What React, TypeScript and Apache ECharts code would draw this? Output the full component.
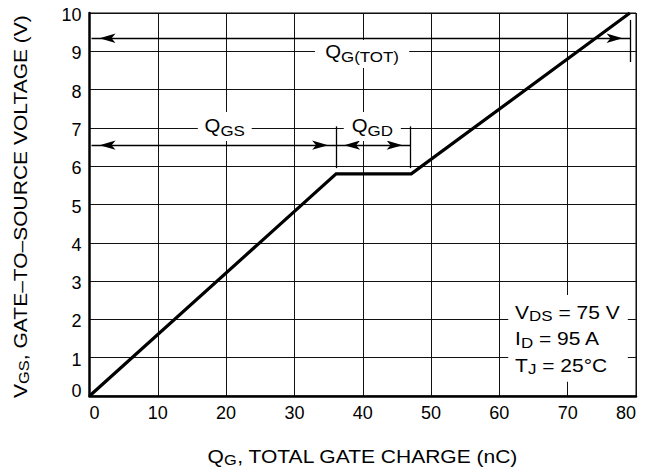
import React, { useEffect, useRef } from "react";
import * as echarts from "echarts";

// ---- data ----
const chargeNC = [0, 36.1, 47.1, 79.1];
const gateSourceV = [0, 5.8, 5.8, 10];

const X_MIN = 0;
const X_MAX = 80;
const X_STEP = 10;
const Y_MIN = 0;
const Y_MAX = 10;
const Y_STEP = 1;

// annotation geometry in data units
const arrowStartX = 0.3;
const qgTotY = 9.34;
const qgTotEndX = 79.2;
const qgTotTickY = [8.72, 9.82];
const qgsY = 6.55;
const plateauStartX = 36.1;
const plateauEndX = 47;
const qgsTickY = [5.95, 7.04];

const FONT = "'Liberation Sans', Arial, Helvetica, sans-serif";
const SX = 1.13;

const richSet = (main: number, sub: number, mainLH: number, subLH: number) => ({
  m: { fontSize: main, lineHeight: mainLH, fontFamily: FONT, fill: "#000", color: "#000" },
  s: { fontSize: sub, lineHeight: subLH, verticalAlign: "bottom", fontFamily: FONT, fill: "#000", color: "#000" },
});

export default function App() {
  const ref = useRef<HTMLDivElement>(null);
  useEffect(() => {
    if (!ref.current) return;
    const chart = echarts.init(ref.current, null, { renderer: "svg" });
    const arrowEnd = (x: number, y: number) => ({
      coord: [x, y],
      symbol: "arrow",
      symbolSize: [7, 16],
      symbolOffset: [0, 8],
    });
    const plainEnd = (x: number, y: number) => ({ coord: [x, y], symbol: "none" });

    chart.setOption({
      animation: false,
      grid: {
        left: 89.5,
        right: 16,
        top: 13,
        bottom: 73,
        show: true,
        borderColor: "#000",
        borderWidth: 1,
        backgroundColor: "transparent",
      },
      xAxis: {
        type: "value",
        min: X_MIN,
        max: X_MAX,
        interval: X_STEP,
        axisLine: { show: true, onZero: false, lineStyle: { color: "#000", width: 2.5 } },
        axisTick: { show: false },
        splitLine: { show: true, lineStyle: { color: "#111", width: 1 } },
        axisLabel: {
          color: "#000",
          fontSize: 18,
          fontFamily: FONT,
          margin: 8,
          alignMinLabel: "left",
          alignMaxLabel: "right",
        },
      },
      yAxis: {
        type: "value",
        min: Y_MIN,
        max: Y_MAX,
        interval: Y_STEP,
        axisLine: { show: true, onZero: false, lineStyle: { color: "#000", width: 2.5 } },
        axisTick: { show: false },
        splitLine: { show: true, lineStyle: { color: "#111", width: 1 } },
        axisLabel: {
          color: "#000",
          fontSize: 18,
          fontFamily: FONT,
          margin: 8,
          formatter: (v: number) => (v === 0 ? `{z|${v}}` : `{n|${v}}`),
          rich: {
            n: { fontSize: 18, fontFamily: FONT, color: "#000", padding: [4, 0, 0, 0] },
            z: { fontSize: 18, fontFamily: FONT, color: "#000", padding: [0, 0, 10, 0] },
          },
        },
      },
      series: [
        {
          type: "line",
          data: chargeNC.map((x, i) => [x, gateSourceV[i]]),
          showSymbol: false,
          symbol: "none",
          silent: true,
          lineStyle: { color: "#000", width: 3.2, join: "miter" },
          markLine: {
            silent: true,
            animation: false,
            label: { show: false },
            emphasis: { disabled: true },
            lineStyle: { color: "#000", width: 1.3, type: "solid" },
            data: [
              [arrowEnd(arrowStartX, qgTotY), arrowEnd(qgTotEndX, qgTotY)],
              [plainEnd(qgTotEndX, qgTotTickY[0]), plainEnd(qgTotEndX, qgTotTickY[1])],
              [arrowEnd(arrowStartX, qgsY), arrowEnd(plateauStartX, qgsY)],
              [arrowEnd(plateauStartX, qgsY), arrowEnd(plateauEndX, qgsY)],
              [plainEnd(plateauStartX, qgsTickY[0]), plainEnd(plateauStartX, qgsTickY[1])],
              [plainEnd(plateauEndX, qgsTickY[0]), plainEnd(plateauEndX, qgsTickY[1])],
            ],
          },
        },
      ],
    });

    const px = (x: number, y: number) => chart.convertToPixel({ gridIndex: 0 }, [x, y]) as number[];
    const qRich = richSet(18, 15, 24, 11.9);
    const condRich = richSet(18.6, 15, 22, 9.5);
    const titleRich = richSet(18.6, 14.5, 22, 15.8);
    const yTitleRich = richSet(18.6, 14.5, 22, 19);

    const txt = (
      p: number[],
      text: string,
      rich: any,
      align: string,
      va: string,
      extra: any = {}
    ) => ({
      type: "text",
      x: p[0],
      y: p[1],
      scaleX: SX,
      rotation: extra.rotation || 0,
      z: 50,
      silent: true,
      style: {
        text,
        rich,
        align,
        verticalAlign: va,
        fill: "#000",
        fontFamily: FONT,
        fontSize: 18,
        backgroundColor: extra.bg,
        padding: extra.pad,
      },
    });

    const gridLeft = px(X_MIN, Y_MIN);
    const gridRight = px(X_MAX, Y_MIN);
    const boxTL = px(61.3, 2.64);
    const boxBR = px(78.8, 0.37);

    chart.setOption({
      graphic: [
        txt(px(19.8, 7.415), "{m|Q}{s|GS}", qRich, "center", "top", { bg: "#fff", pad: [2, 6, 3, 6] }),
        txt(px(41.4, 7.415), "{m|Q}{s|GD}", qRich, "center", "top", { bg: "#fff", pad: [2, 7, 3, 7] }),
        txt(px(39.9, 9.295), "{m|Q}{s|G(TOT)}", qRich, "center", "top", { bg: "#fff", pad: [0, 9, 4, 9] }),
        {
          type: "rect",
          z: 40,
          silent: true,
          shape: { x: boxTL[0], y: boxTL[1], width: boxBR[0] - boxTL[0], height: boxBR[1] - boxTL[1] },
          style: { fill: "#fff" },
        },
        txt(px(62.3, 2.18), "{m|V}{s|DS}{m| = 75 V}", condRich, "left", "middle"),
        txt(px(62.3, 1.49), "{m|I}{s|D}{m| = 95 A}", condRich, "left", "middle"),
        txt(px(62.3, 0.79), "{m|T}{s|J}{m| = 25°C}", condRich, "left", "middle"),
        txt([(gridLeft[0] + gridRight[0]) / 2, 456.7], "{m|Q}{s|G}{m|, TOTAL GATE CHARGE (nC)}", titleRich, "center", "middle"),
        txt([20, 206.5], "{m|V}{s|GS}{m|, GATE–TO–SOURCE VOLTAGE (V)}", yTitleRich, "center", "middle", {
          rotation: Math.PI / 2,
        }),
      ],
    });

    return () => chart.dispose();
  }, []);

  return (
    <div
      ref={ref}
      style={{ position: "fixed", left: 0, top: 0, width: 652, height: 469, background: "#fff" }}
    />
  );
}
